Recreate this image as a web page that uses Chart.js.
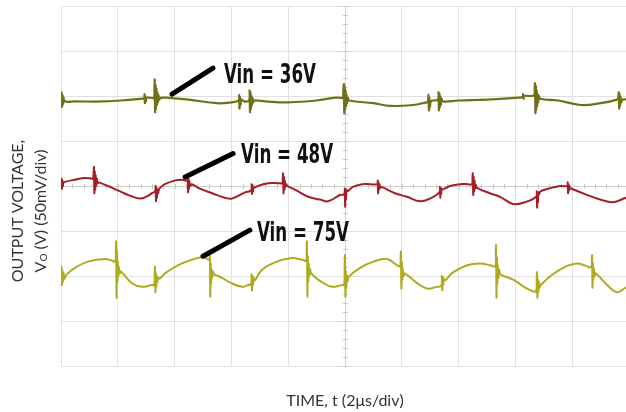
<!DOCTYPE html>
<html lang="en">
<head>
<meta charset="UTF-8">
<title>Output voltage ripple</title>
<script src="https://cdn.jsdelivr.net/npm/chart.js@4.4.1/dist/chart.umd.min.js"></script>
<style>
    html, body { margin: 0; padding: 0; background: #fff; overflow: hidden; }
    .wrap { position: relative; width: 632px; height: 412px; }
</style>
</head>
<body>
<div class="wrap"><canvas id="scope" width="632" height="412"></canvas></div>
<script>
// time in µs (2 µs/div, 10 div), voltage in mV about the centre line (50 mV/div, 8 div)
const timeRange = [0, 20];
const voltRange = [-200, 200];

const traceNames = ['Vin = 36V', 'Vin = 48V', 'Vin = 75V'];

const vin36 = [
    [0,96],[0.02,104],[0.035,88],[0.05,101],[0.07,91],[0.09,98],[0.13,94],
    [0.5,94],[1.5,94],[2.5,96],[2.85,97],
    [2.92,97],[2.94,102],[2.955,92],[2.97,100],[2.99,94],[3.02,98],
    [3.15,98],
    [3.27,98],[3.29,108],[3.3,118],[3.315,82],[3.33,112],[3.345,86],[3.36,108],[3.375,90],[3.39,104],[3.41,93],[3.43,101],[3.46,96],[3.5,98],
    [3.8,98],[4.5,96],[5.5,92],[6.0,93],
    [6.25,95],[6.27,101],[6.285,86],[6.3,99],[6.32,90],[6.35,96],
    [6.45,94],
    [6.62,95],[6.64,106],[6.655,82],[6.67,104],[6.685,86],[6.7,100],[6.72,90],[6.74,98],[6.77,93],[6.8,95],
    [7.2,94],[8.0,93],[9.0,95],[9.6,98],[9.85,98],
    [9.92,98],[9.945,108],[9.96,113],[9.975,81],[9.99,110],[10.005,85],[10.02,106],[10.035,89],[10.05,102],[10.07,92],[10.1,98],[10.14,95],
    [11.0,92],[11.6,89],[12.4,90],[12.88,93],
    [12.92,93],[12.94,101],[12.955,84],[12.97,98],[12.99,88],[13.02,94],
    [13.1,95],
    [13.27,96],[13.29,104],[13.305,84],[13.32,103],[13.335,87],[13.35,100],[13.37,90],[13.4,97],[13.44,94],
    [14.0,95],[15.0,96],[16.0,98],
    [16.25,99],[16.27,102],[16.29,97],[16.31,100],[16.5,100],
    [16.66,101],[16.68,110],[16.69,114],[16.705,81],[16.72,111],[16.735,85],[16.75,106],[16.765,89],[16.78,102],[16.8,93],[16.83,100],[16.87,97],
    [17.5,95],[18.3,90],[19.0,92],[19.58,96],
    [19.62,98],[19.64,104],[19.655,86],[19.67,102],[19.685,89],[19.7,99],[19.73,93],[19.77,96],
    [20,96]
];

const vin48 = [
    [0,3],[0.02,8],[0.035,-3],[0.05,6],[0.07,0],[0.1,4],
    [0.5,7],[0.85,9],[1.09,8],
    [1.13,8],[1.15,16],[1.16,21],[1.175,-8],[1.19,16],[1.205,-4],[1.22,12],[1.24,0],[1.26,8],[1.29,3],[1.33,4],
    [1.65,0],[2.08,-6],[2.45,-11],[2.78,-14],[3.06,-11],[3.2,-8],
    [3.31,-6],[3.33,0],[3.345,-17],[3.36,-2],[3.375,-13],[3.39,-4],[3.42,-8],[3.46,-3],
    [3.66,2],[4.0,6],[4.26,7],
    [4.44,6],[4.46,10],[4.475,-7],[4.49,8],[4.505,-3],[4.52,5],[4.55,0],[4.6,2],
    [4.89,-3],[5.32,-8],[5.77,-13],[6.02,-14],[6.48,-7],
    [6.69,-5],[6.71,2],[6.725,-9],[6.74,1],[6.76,-6],[6.79,-2],
    [7.29,3],[7.71,3],
    [7.79,3],[7.81,10],[7.82,14],[7.835,-8],[7.85,10],[7.865,-4],[7.88,6],[7.9,-1],[7.93,2],[7.97,0],
    [8.24,-4],[8.7,-12],[9.12,-15],[9.4,-17],[9.82,-10],
    [9.97,-9],[9.99,-3],[10.005,-23],[10.02,-5],[10.035,-15],[10.05,-4],[10.08,-6],
    [10.28,-1],[10.6,2],[10.88,2],
    [11.13,2],[11.15,6],[11.165,-8],[11.18,4],[11.195,-4],[11.21,2],[11.24,-2],[11.28,-1],
    [11.76,-8],[12.18,-12],[12.64,-17],[12.99,-14],
    [13.32,-7],[13.34,-1],[13.355,-13],[13.37,-2],[13.385,-9],[13.4,-3],[13.43,-4],
    [13.7,0],[14.05,2],[14.33,2],
    [14.47,2],[14.49,10],[14.5,14],[14.515,-10],[14.53,10],[14.545,-6],[14.56,6],[14.58,-3],[14.61,1],[14.65,-2],
    [15.1,-8],[15.46,-12],[15.92,-20],[16.34,-18],
    [16.73,-12],[16.75,-6],[16.765,-24],[16.78,-8],[16.795,-18],[16.81,-7],[16.84,-9],[16.88,-6],
    [17.15,-3],[17.57,0],
    [17.82,0],[17.84,4],[17.855,-8],[17.87,2],[17.885,-5],[17.9,0],[17.94,-3],[17.98,-3],
    [18.45,-9],[18.98,-15],[19.44,-18],[19.89,-13],[20,-12]
];

const vin75 = [
    [0,-98],[0.02,-90],[0.035,-110],[0.05,-94],[0.07,-106],[0.09,-97],[0.12,-103],[0.18,-99],
    [0.49,-91],[0.95,-84],[1.55,-81],[1.8,-83],
    [1.91,-84],[1.93,-70],[1.94,-62],[1.955,-124],[1.97,-72],[1.985,-106],[2.0,-84],[2.02,-100],[2.04,-90],[2.07,-97],[2.11,-95],
    [2.5,-108],[2.85,-112],[3.2,-110],
    [3.28,-110],[3.3,-95],[3.31,-90],[3.325,-118],[3.34,-97],[3.355,-112],[3.37,-100],[3.39,-107],[3.42,-102],[3.47,-103],
    [3.66,-97],[4.26,-86],[4.96,-79],[5.15,-81],
    [5.22,-82],[5.24,-78],[5.255,-123],[5.27,-86],[5.285,-108],[5.3,-92],[5.32,-102],[5.35,-95],[5.39,-98],
    [5.67,-102],[6.0,-108],[6.37,-112],[6.6,-110],
    [6.69,-109],[6.71,-98],[6.725,-116],[6.74,-100],[6.76,-110],[6.78,-102],[6.82,-105],
    [7.08,-93],[7.6,-84],[8.13,-80],[8.5,-82],
    [8.63,-83],[8.65,-70],[8.66,-62],[8.675,-123],[8.69,-78],[8.705,-106],[8.72,-86],[8.74,-100],[8.77,-92],[8.81,-97],
    [9.19,-107],[9.54,-112],[9.9,-110],
    [9.97,-110],[9.99,-85],[10.0,-77],[10.015,-123],[10.03,-95],[10.045,-113],[10.06,-99],[10.09,-106],[10.13,-101],
    [10.53,-91],[11.0,-84],[11.48,-81],[11.83,-88],
    [11.94,-89],[11.96,-78],[11.97,-73],[11.985,-114],[12.0,-85],[12.015,-104],[12.03,-92],[12.06,-100],[12.1,-97],
    [12.54,-108],[12.89,-114],[13.25,-112],
    [13.39,-111],[13.41,-100],[13.425,-116],[13.44,-101],[13.46,-110],[13.48,-103],[13.52,-105],
    [13.8,-96],[14.3,-88],[14.75,-86],[15.11,-88],
    [15.29,-89],[15.31,-72],[15.32,-66],[15.335,-124],[15.35,-80],[15.365,-108],[15.38,-88],[15.4,-102],[15.43,-93],[15.47,-98],
    [15.92,-104],[16.3,-112],[16.62,-117],
    [16.73,-117],[16.75,-102],[16.76,-96],[16.775,-124],[16.79,-104],[16.805,-118],[16.82,-106],[16.85,-113],[16.89,-110],
    [17.32,-98],[17.8,-89],[18.17,-86],[18.5,-89],
    [18.67,-90],[18.69,-80],[18.7,-77],[18.715,-113],[18.73,-86],[18.745,-104],[18.76,-92],[18.79,-100],[18.83,-97],
    [19.23,-110],[19.58,-118],[19.89,-113],[20,-112]
];

const traceColors = ['#707016', '#a51e27', '#aeab1f'];
const traceWidths = [2.2, 2, 2];

// callouts: leader line from -> to, then the label, all in data units
const callouts = [
    { from: [3.91, 102], to: [5.35, 131], text: [5.74, 114] },
    { from: [4.37, 10],  to: [6.06, 36],  text: [6.34, 26] },
    { from: [5.0, -78],  to: [6.65, -49], text: [6.9, -61] }
];
const calloutWidth = 92;

const gridColor = '#e0e0e0';
const textFont = 'Lato, "Open Sans", sans-serif';

const scopeDecor = {
    id: 'scopeDecor',
    beforeDatasetsDraw(chart) {
        // minor ticks on the centre cross, like the scope graticule
        const { ctx, scales: { x, y } } = chart;
        const cx = x.getPixelForValue(10), cy = y.getPixelForValue(0);
        ctx.save();
        ctx.strokeStyle = '#c9c9c9';
        ctx.lineWidth = 1;
        ctx.beginPath();
        for (let t = timeRange[0]; t <= timeRange[1]; t += 0.4) {
            const px = Math.round(x.getPixelForValue(t)) + 0.5;
            ctx.moveTo(px, cy - 2); ctx.lineTo(px, cy + 3);
        }
        for (let v = voltRange[0]; v <= voltRange[1]; v += 10) {
            const py = Math.round(y.getPixelForValue(v)) + 0.5;
            ctx.moveTo(cx - 2, py); ctx.lineTo(cx + 3, py);
        }
        ctx.stroke();
        ctx.restore();
    },
    afterDatasetsDraw(chart) {
        const { ctx, scales: { x, y } } = chart;
        ctx.save();
        ctx.strokeStyle = '#000';
        ctx.lineWidth = 5;
        ctx.lineCap = 'round';
        ctx.fillStyle = '#111';
        ctx.font = 'bold 27px "Liberation Sans Narrow", "DejaVu Sans Condensed", sans-serif';
        ctx.textBaseline = 'alphabetic';
        ctx.textAlign = 'left';
        callouts.forEach((c, i) => {
            ctx.beginPath();
            ctx.moveTo(x.getPixelForValue(c.from[0]), y.getPixelForValue(c.from[1]));
            ctx.lineTo(x.getPixelForValue(c.to[0]), y.getPixelForValue(c.to[1]));
            ctx.stroke();
            // squeeze the label to the narrow width of the original lettering
            const w = ctx.measureText(traceNames[i]).width;
            ctx.save();
            ctx.translate(x.getPixelForValue(c.text[0]), y.getPixelForValue(c.text[1]));
            ctx.scale(calloutWidth / w, 1);
            ctx.fillText(traceNames[i], 0, 0);
            ctx.restore();
        });
        ctx.restore();
    },
    afterDraw(chart) {
        // y title, two rotated lines with a subscript O
        const ctx = chart.ctx;
        const lines = [
            { cx: 18, parts: [{ s: 'OUTPUT VOLTAGE,', size: 16, dy: 0 }] },
            { cx: 41, parts: [{ s: 'V', size: 16, dy: 0 }, { s: 'O', size: 10, dy: 3 }, { s: ' (V) (50mV/div)', size: 16, dy: 0 }] }
        ];
        ctx.save();
        ctx.fillStyle = '#333';
        ctx.textBaseline = 'middle';
        ctx.textAlign = 'left';
        lines.forEach(line => {
            let total = 0;
            line.parts.forEach(p => { ctx.font = p.size + 'px ' + textFont; p.w = ctx.measureText(p.s).width; total += p.w; });
            ctx.save();
            ctx.translate(line.cx, 211);
            ctx.rotate(-Math.PI / 2);
            let pos = -total / 2;
            line.parts.forEach(p => {
                ctx.font = p.size + 'px ' + textFont;
                ctx.fillText(p.s, pos, p.dy);
                pos += p.w;
            });
            ctx.restore();
        });
        ctx.restore();
    }
};

const toPoints = arr => arr.map(([t, v]) => ({ x: t, y: v }));

new Chart(document.getElementById('scope'), {
    type: 'line',
    data: {
        datasets: [vin36, vin48, vin75].map((d, i) => ({
            label: traceNames[i],
            data: toPoints(d),
            borderColor: traceColors[i],
            borderWidth: traceWidths[i],
            pointRadius: 0,
            tension: 0.4,
            fill: false
        }))
    },
    options: {
        responsive: false,
        animation: false,
        layout: { padding: { top: 6, right: 3, left: 0, bottom: 0 } },
        plugins: { legend: { display: false }, tooltip: { enabled: false } },
        scales: {
            x: {
                type: 'linear',
                min: timeRange[0], max: timeRange[1],
                ticks: { stepSize: 2, display: false },
                grid: { color: ctx => ctx.tick && ctx.tick.value === 10 ? '#cfcfcf' : gridColor, drawTicks: false },
                border: { color: gridColor },
                title: {
                    display: true,
                    text: 'TIME, t (2\u03bcs/div)',
                    color: '#333',
                    font: { family: textFont, size: 16 },
                    padding: { top: 0, bottom: 2 }
                },
                afterFit(scale) { scale.height = 46; }
            },
            y: {
                min: voltRange[0], max: voltRange[1],
                ticks: { stepSize: 50, display: false },
                grid: { color: ctx => ctx.tick && ctx.tick.value === 0 ? '#cfcfcf' : gridColor, drawTicks: false },
                border: { color: gridColor },
                afterFit(scale) { scale.width = 61; }
            }
        }
    },
    plugins: [scopeDecor]
});
</script>
</body>
</html>
